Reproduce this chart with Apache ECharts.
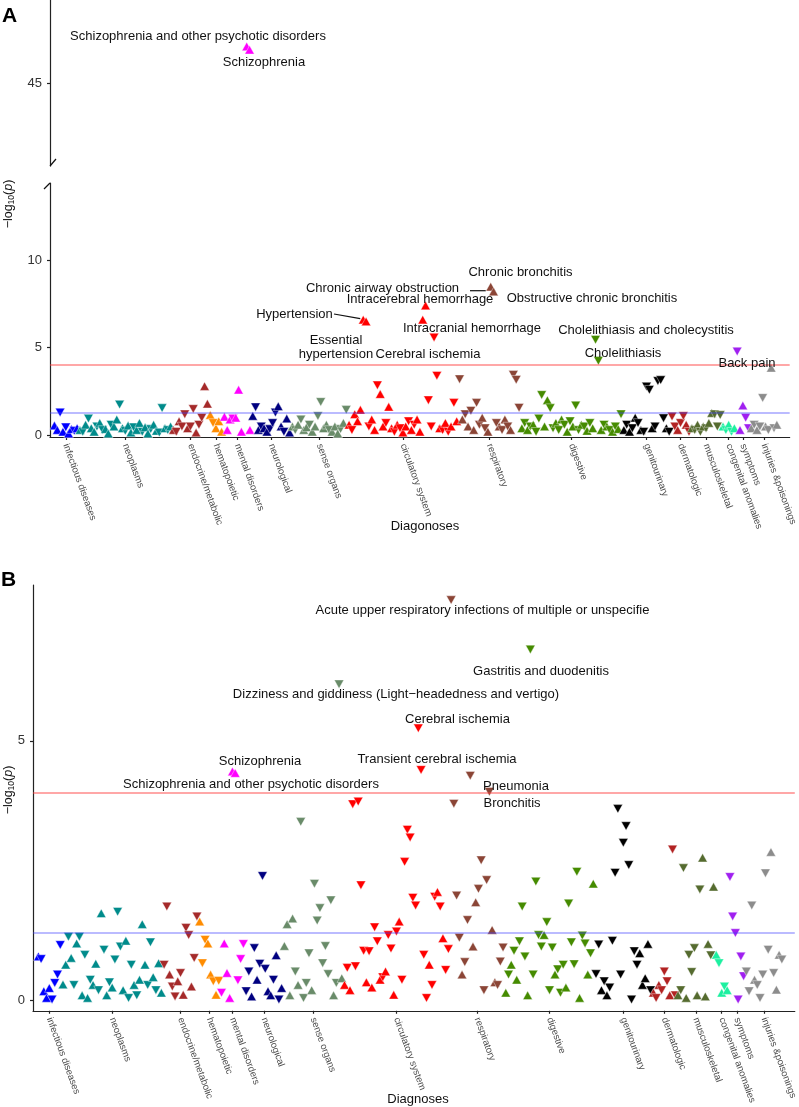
<!DOCTYPE html>
<html><head><meta charset="utf-8">
<script src="https://cdn.jsdelivr.net/npm/echarts@6/dist/echarts.min.js"></script>
<style>html,body{margin:0;padding:0;background:#fff}#chart{width:799px;height:1107px}</style>
</head><body><div id="chart"></div>
<script>
// ---------------- DATA ----------------
// Signed values: magnitude = -log10(p); sign = direction (+ up triangle, - down triangle)
const categories = ['infectious diseases','neoplasms','endocrine/metabolic','hematopoietic','mental disorders','neurological','sense organs','circulatory system','respiratory','digestive','genitourinary','dermatologic','musculoskeletal','congenital anomalies','symptoms','injuries &poisonings'];
const categoryColors = ['#0000FF','#008B8B','#A52A2A','#FF8C00','#FF00FF','#000080','#698B69','#FF0000','#8B4536','#458B00','#000000','#B22222','#556B2F','#1CF0A0','#A020F0','#8C8C8C'];

// Panel A
const A_infectious = [0.55, 0.3, -1.3, 0.2, -0.45, 0.1, 0.35, -0.25, 0.4];
const A_neoplasms = [0.3, -0.2, 0.6, -0.95, 0.4, 0.2, -0.5, 0.7, -0.3, 0.35, 0.1, -0.6, 0.5, 0.9, -1.75, 0.4, -0.25, 0.55, 0.15, -0.45, 0.3, 0.7, -0.2, 0.45, 0.1, -0.35, 0.6, 0.25, -0.15, -1.55, 0.4, -0.3, 0.5];
const A_endocrine = [0.3, -0.2, 0.8, -0.5, -1.2, 0.4, -0.5, -1.5, 0.15, -0.6, -1.0, 2.8, 1.8];
const A_hematopoietic = [1.15, -0.7, 0.4, 0.8, 0.2];
const A_mental = [1.05, 0.3, 0.9, -0.95, 1.0, 2.6, 0.2, 47.2, 47.0, 0.3];
const A_neurological = [1.1, -1.6, 0.3, -0.5, 0.4, 0.2, -0.35, -0.7, -1.3, 1.65, 0.5, -0.2, 0.95, 0.15];
const A_sense = [0.5, -0.3, 0.6, -0.9, 0.3, 0.45, -0.6, 0.2, 0.5, -1.1, -1.9, 0.4, 0.6, -0.3, 0.2, 0.5, 0.1, -0.35, 0.7, -1.45];
const A_circulatory = [0.6, -0.3, 1.2, 0.8, 1.45, 6.6, 6.5, -0.5, 0.9, 0.3, -2.85, 2.35, 0.5, -0.7, 1.62, 0.4, -0.2, 0.6, -0.4, 0.15, 0.5, -0.8, 0.3, -0.6, 0.9, 0.2, 6.6, 7.4, -2.0, -0.5, -5.58, -3.4, 0.4, -0.3, 0.7, -0.2, 0.5, -1.85, 0.8];
const A_respiratory = [-3.2, 0.9, -1.2, 0.5, -1.4, 0.3, -1.85, -0.6, 1.0, -0.4, 0.2, 8.48, 8.2, -0.7, 0.5, -0.3, 0.9, -0.5, 0.3, -3.45, -3.17, -1.57];
const A_digestive = [0.4, -0.7, 0.3, -0.5, 0.6, -0.2, -0.95, -2.3, 0.5, 2.0, -1.55, -0.4, 0.7, -0.3, 0.9, -0.6, 0.2, -0.8, 0.5, -1.7, -0.3, 0.6, -0.5, 0.25, -0.7, 0.4, -5.45, -4.25, 0.3, -0.6, 0.5, -0.3, 0.2, -0.5, 0.35, -1.2];
const A_genitourinary = [0.3, -0.6, 0.2, -0.4, 1.0, -0.7, 0.3, -0.2, -2.78, -2.6, 0.4, -0.5, -3.1, -3.15, -0.97, 0.4, -0.2];
const A_dermatologic = [-1.07, -0.5, 0.3, -0.7, -1.1, 0.6, -0.2];
const A_musculoskeletal = [0.4, -0.3, 0.6, -0.2, 0.5, -0.4, 0.7, 1.27, -1.2, -0.5, -1.15];
const A_congenital = [0.5, -0.3, 0.6, -0.2, 0.4];
const A_symptoms = [-4.78, 0.3, 1.7, -1.0, -0.4];
const A_injuries = [0.4, -0.6, 0.3, -0.5, -2.13, 0.5, -0.3, 3.85, -0.4, 0.6];

// Panel B
const B_infectious = [0.85, -0.8, 0.18, 0.05, 0.24, -0.02, -0.34, -0.5, -1.07];
const B_neoplasms = [0.31, 0.69, -1.23, 0.82, -0.3, 1.1, -1.23, 0.1, -0.88, 0.05, -0.4, 0.3, 0.71, -0.2, 1.68, -0.98, 0.1, -0.35, 0.25, -0.79, -1.71, -1.04, 0.2, 1.15, -0.05, -0.69, 0.3, -0.1, 0.4, 1.47, 0.69, -0.3, -1.12, 0.45, -0.2, 0.72, 0.15];
const B_endocrine = [-0.69, -1.81, 0.5, -0.27, -0.08, 0.37, -0.53, 0.11, -1.4, -1.26, 0.27, -0.82, -1.62];
const B_hematopoietic = [1.52, -0.72, -1.17, 1.1, 0.5, -0.37, 0.11, -0.38];
const B_mental = [-0.15, 1.1, 0.53, 0.05, 4.41, 4.38, -0.39, -0.8, -1.09];
const B_neurological = [-0.18, -0.56, 0.08, -1.01, 0.4, -0.71, -2.4, -0.61, 0.18, 0.1, -0.4, 0.87, -0.02, 0.24];
const B_sense = [1.05, 1.47, 0.1, 1.58, -0.56, 0.3, -3.44, -0.05, -0.34, -0.91, 0.2, -2.25, -1.54, -1.78, -0.72, -1.05, -0.51, -1.93, 0.1, -0.34, -6.09, 0.43];
const B_circulatory = [0.3, -0.63, 0.2, -3.78, -0.66, -3.83, -2.22, -0.96, 0.35, -0.95, 0.25, -1.41, -1.14, 0.4, -0.45, 0.56, -1.26, -1.0, 0.11, -1.33, 1.52, -0.4, -2.67, -3.29, -3.14, -1.98, -1.83, -5.24, -4.44, -0.88, -0.05, 0.69, -0.3, -2.0, 2.09, -1.81, 1.2, -0.59, -0.99];
const B_respiratory = [-7.71, -3.79, -2.02, -1.21, 0.5, -0.74, -1.55, -4.33, 1.04, 1.89, -2.15, -2.7, -0.2, -2.32, -4.02, 1.36, 0.35, -0.3, -0.75, -1.02];
const B_digestive = [0.15, -0.5, 0.69, -0.96, 0.4, -1.14, -1.81, -0.85, 0.1, -6.76, -0.5, -2.29, -1.26, -1.04, 1.26, -1.51, -0.2, -1.02, 0.5, -0.6, -0.15, -0.69, 0.25, -1.87, -1.12, -0.7, -2.48, 0.05, -1.25, -1.1, 0.5, -0.91, 2.25];
const B_genitourinary = [-0.51, -1.08, 0.2, -0.37, 0.1, -0.25, -1.15, -2.46, -3.69, -0.5, -3.04, -3.36, -2.61, -0.02, -0.95, -0.69, 0.91, 0.3, 0.43, 1.09, -0.2];
const B_dermatologic = [0.15, -0.05, 0.3, -0.2, -0.56, -0.37, 0.1, -2.91, -0.1];
const B_musculoskeletal = [0.1, -0.2, -2.55, 0.05, -0.88, -0.55, -1.01, 0.1, -2.14, 2.75, 0.08, 1.09, -0.87, 2.19];
const B_congenital = [0.88, -0.72, 0.15, -0.27, 0.2];
const B_symptoms = [-2.38, -1.62, -1.3, -0.02, -0.85, -0.47];
const B_injuries = [-0.56, -0.18, -1.83, 0.4, -0.3, -0.05, -0.5, -2.45, -0.98, 2.86, -0.53, 0.21, 0.88, -0.79];

const thresholdBonferroni = 4;      // red line
const thresholdNominal = 1.301;     // blue line, -log10(0.05)

const A_yTicksLower = [0, 5, 10];
const A_yTicksUpper = [45];
const B_yTicks = [0, 5];

const annotationsA = [
  {text:'Schizophrenia and other psychotic disorders', x:198, y:36},
  {text:'Schizophrenia', x:264, y:62},
  {text:'Hypertension', x:294.5, y:314},
  {text:'Essential\nhypertension', x:336, y:347},
  {text:'Chronic airway obstruction', x:382.5, y:288},
  {text:'Intracerebral hemorrhage', x:420, y:299},
  {text:'Chronic bronchitis', x:520.5, y:272},
  {text:'Obstructive chronic bronchitis', x:592, y:298},
  {text:'Intracranial hemorrhage', x:472, y:328},
  {text:'Cerebral ischemia', x:428, y:354},
  {text:'Cholelithiasis and cholecystitis', x:646, y:330},
  {text:'Cholelithiasis', x:623, y:353},
  {text:'Back pain', x:747, y:363}
];
const annotationsB = [
  {text:'Acute upper respiratory infections of multiple or unspecifie', x:482.5, y:610},
  {text:'Gastritis and duodenitis', x:541, y:671},
  {text:'Dizziness and giddiness (Light\u2212headedness and vertigo)', x:396, y:694},
  {text:'Cerebral ischemia', x:457.5, y:719},
  {text:'Schizophrenia', x:260, y:761},
  {text:'Transient cerebral ischemia', x:437, y:759},
  {text:'Schizophrenia and other psychotic disorders', x:251, y:784},
  {text:'Pneumonia', x:516, y:786},
  {text:'Bronchitis', x:512, y:803}
];

// ---------------- BUILD ----------------
const listsA = [A_infectious, A_neoplasms, A_endocrine, A_hematopoietic, A_mental, A_neurological, A_sense, A_circulatory, A_respiratory, A_digestive, A_genitourinary, A_dermatologic, A_musculoskeletal, A_congenital, A_symptoms, A_injuries];
const listsB = [B_infectious, B_neoplasms, B_endocrine, B_hematopoietic, B_mental, B_neurological, B_sense, B_circulatory, B_respiratory, B_digestive, B_genitourinary, B_dermatologic, B_musculoskeletal, B_congenital, B_symptoms, B_injuries];

function build(lists){
  let idx = 0; const groups = []; const ticks = []; const starts = [];
  lists.forEach(vals => {
    starts.push(idx);
    const pts = vals.map(v => { const p = {value:[idx, Math.abs(v)], symbolRotate: v < 0 ? 180 : 0}; idx++; return p; });
    ticks.push((idx - vals.length + idx - 1) / 2);
    groups.push(pts);
  });
  return {groups, ticks, starts, n: idx};
}
const PA = build(listsA), PB = build(listsB);

const FONT = '"Liberation Sans", Arial, sans-serif';
const W = 799;
// layout
const gA = {left:50, upperTop:0, upperH:166, lowerTop:183, lowerH:254, p0:54.5, p1:786};
const gB = {left:33, top:585, h:428, p0:38.4, p1:786};

function xRange(P, left, p0, p1){
  const s = (p1 - p0) / (P.n - 1);
  const min = -(p0 - left) / s;
  return {min, max: min + (W - left) / s};
}
const xrA = xRange(PA, gA.left, gA.p0, gA.p1);
const xrB = xRange(PB, gB.left, gB.p0, gB.p1);

function tickName(P){ return v => { let best = 0, bd = 1e9; P.ticks.forEach((t,i)=>{const d=Math.abs(t-v); if(d<bd){bd=d;best=i;}}); return categories[best]; }; }

const axisLineStyle = {color:'#222', width:1.2};
function xAxisCfg(P, xr, gridIndex, show){
  return {
    type:'value', gridIndex, min:xr.min, max:xr.max, show,
    splitLine:{show:false},
    axisLine:{show:true, onZero:false, lineStyle:axisLineStyle},
    axisTick:{show:true, length:3, customValues:P.ticks, lineStyle:axisLineStyle},
    axisLabel:{show:true, customValues:P.ticks, formatter:tickName(P), rotate:-70, fontSize:9.6, color:'#4d4d4d', fontFamily:FONT, margin:7}
  };
}
function yAxisCfg(gridIndex, min, max, ticks){
  return {
    type:'value', gridIndex, min, max,
    splitLine:{show:false},
    axisLine:{show:true, onZero:false, lineStyle:axisLineStyle},
    axisTick:{show:true, length:3, customValues:ticks, lineStyle:axisLineStyle},
    axisLabel:{show:true, customValues:ticks, fontSize:13, color:'#333', fontFamily:FONT, margin:8}
  };
}

const series = [];
function addThresholds(xi, yi){
  series.push({type:'scatter', xAxisIndex:xi, yAxisIndex:yi, data:[], z:1, silent:true,
    markLine:{silent:true, symbol:'none', label:{show:false}, animation:false,
      data:[{yAxis:thresholdBonferroni, lineStyle:{color:'rgba(255,60,60,0.45)', width:2, type:'solid'}},
            {yAxis:thresholdNominal, lineStyle:{color:'rgba(60,60,255,0.35)', width:2, type:'solid'}}]}});
}
addThresholds(1,1);
addThresholds(2,2);
function addPoints(P, xi, yi){
  P.groups.forEach((pts, c) => {
    series.push({type:'scatter', name:categories[c], xAxisIndex:xi, yAxisIndex:yi, data:pts, clip:true, z:3,
      symbol:'triangle', symbolSize:[9.5,8.5], animation:false,
      itemStyle:{color:categoryColors[c], borderColor:'#ffffff', borderWidth:0.4, opacity:1}});
  });
}
addPoints(PA, 0, 0);
addPoints(PA, 1, 1);
addPoints(PB, 2, 2);

const chart = echarts.init(document.getElementById('chart'), null, {renderer:'canvas'});
chart.setOption({
  animation:false,
  backgroundColor:'#ffffff',
  grid:[
    {left:gA.left, right:0, top:gA.upperTop, height:gA.upperH},
    {left:gA.left, right:0, top:gA.lowerTop, height:gA.lowerH},
    {left:gB.left, right:0, top:gB.top, height:gB.h}
  ],
  xAxis:[
    xAxisCfg(PA, xrA, 0, false),
    xAxisCfg(PA, xrA, 1, true),
    xAxisCfg(PB, xrB, 2, true)
  ],
  yAxis:[
    yAxisCfg(0, 40, 50, A_yTicksUpper),
    yAxisCfg(1, -0.1, 14.4, A_yTicksLower),
    yAxisCfg(2, -0.197, 8.0, B_yTicks)
  ],
  series
});

// ---------------- ANNOTATIONS ----------------
const graphics = [];
function txt(a){
  graphics.push({type:'text', x:a.x, y:a.y, silent:true, z:10,
    style:{text:a.text, fill:'#111', font:'13px ' + FONT, textAlign:'center', textVerticalAlign:'middle', lineHeight:14}});
}
annotationsA.forEach(txt);
annotationsB.forEach(txt);

function line(x1,y1,x2,y2,w){ graphics.push({type:'line', silent:true, z:10, shape:{x1,y1,x2,y2}, style:{stroke:'#111', lineWidth:w||1}}); }
// leader lines to points (positions from the data)
const hyperIdx = PA.starts[7] + 5;
const hp = chart.convertToPixel({xAxisIndex:1, yAxisIndex:1}, [hyperIdx, Math.abs(A_circulatory[5])]);
line(334, 314, hp[0] - 3, hp[1] - 1, 1.2);
const cbIdx = PA.starts[8] + 11;
const cp = chart.convertToPixel({xAxisIndex:1, yAxisIndex:1}, [cbIdx, Math.abs(A_respiratory[11])]);
line(470, cp[1] + 4, cp[0] - 5, cp[1] + 4, 1.2);

// broken-axis marks
line(gA.left, gA.upperTop + gA.upperH, gA.left + 6, gA.upperTop + gA.upperH - 7, 1.2);
line(gA.left - 6, gA.lowerTop + 6, gA.left, gA.lowerTop, 1.2);

// panel letters
graphics.push({type:'text', x:2, y:16, style:{text:'A', font:'bold 21px ' + FONT, fill:'#000', textVerticalAlign:'middle'}});
graphics.push({type:'text', x:1, y:580, style:{text:'B', font:'bold 21px ' + FONT, fill:'#000', textVerticalAlign:'middle'}});

// axis titles
const richY = {a:{fontSize:12.5, fontFamily:FONT, color:'#111'}, s:{fontSize:8.5, fontFamily:FONT, color:'#111', verticalAlign:'bottom', padding:[6,0,0,0]}, i:{fontSize:12.5, fontStyle:'italic', fontFamily:FONT, color:'#111'}};
function yTitle(x, y){
  graphics.push({type:'text', x, y, rotation:Math.PI/2, silent:true,
    style:{text:'{a|\u2212log}{s|10}{a|(}{i|p}{a|)}', rich:richY, textAlign:'center', textVerticalAlign:'middle', fill:'#111'}});
}
yTitle(9, 204);
yTitle(9, 790);
graphics.push({type:'text', x:425, y:526, style:{text:'Diagonoses', font:'13px ' + FONT, fill:'#111', textAlign:'center', textVerticalAlign:'middle'}});
graphics.push({type:'text', x:418, y:1099, style:{text:'Diagnoses', font:'13px ' + FONT, fill:'#111', textAlign:'center', textVerticalAlign:'middle'}});

chart.setOption({graphic:{elements:graphics}});
</script></body></html>
